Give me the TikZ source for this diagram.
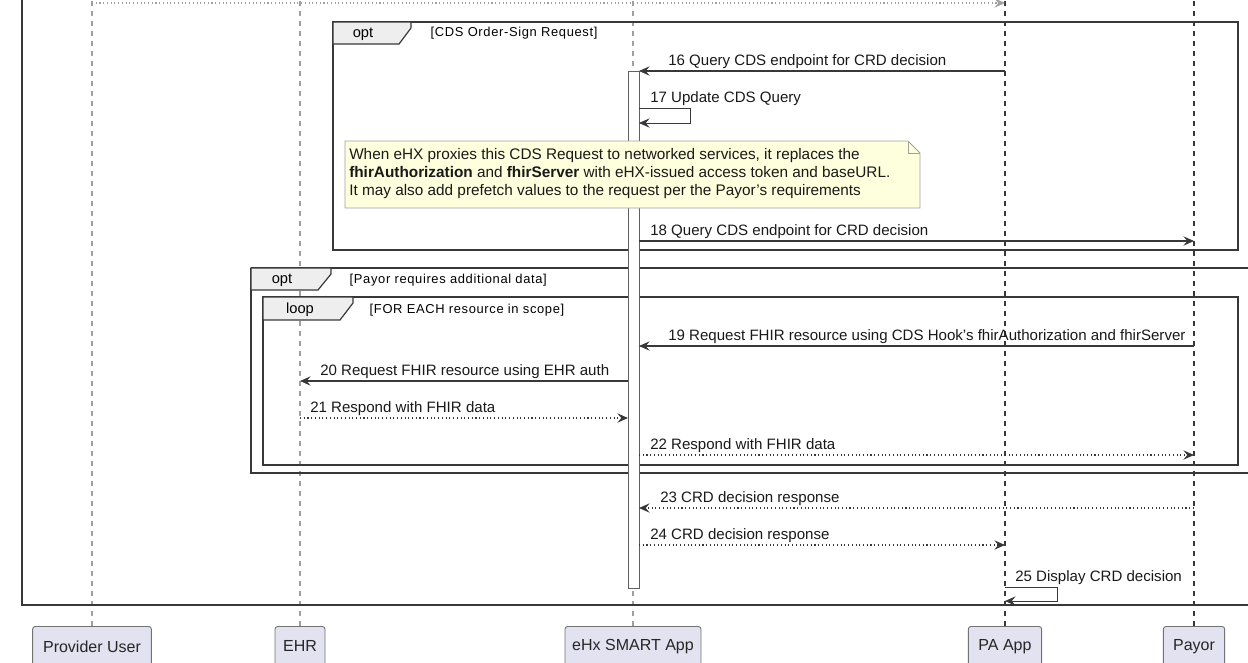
\documentclass[tikz,border=0pt]{standalone}
\usepackage{fontspec}
\setmainfont{Liberation Sans}
\newfontfamily\condfont[LetterSpace=5]{Liberation Sans}
\usetikzlibrary{arrows.meta,positioning,calc}

\definecolor{lineclr}{HTML}{383838}
\definecolor{lifeclr}{HTML}{A0A0A0}
\definecolor{actorfill}{HTML}{E2E2F0}
\definecolor{notefill}{HTML}{FEFFDD}
\definecolor{tabfill}{HTML}{EEEEEE}

\tikzset{
  msg/.style={draw=lineclr, line width=0.8pt, -{Stealth[length=8pt,width=7pt,inset=3pt]}},
  reply/.style={msg, dotted},
  selfmsg/.style={draw=lineclr, line width=0.6pt, -{Stealth[length=8pt,width=7pt,inset=3pt]}},
  lifeline/.style={draw=lifeclr, line width=0.8pt, dash pattern=on 4pt off 3.5pt},
  lifedark/.style={lifeline, draw=lineclr},
  frame/.style={draw=lineclr, line width=0.9pt},
  tab/.style={draw=lineclr, line width=0.9pt, fill=tabfill},
  tabtext/.style={font=\fontsize{11}{13}\selectfont, text=black},
  cond/.style={font=\condfont\fontsize{9.7}{11}\selectfont, text=black, anchor=west},
  lbl/.style={font=\fontsize{11.3}{13}\selectfont, text=black!90, anchor=base west, inner sep=0pt},
  actor/.style={draw=black!55, fill=actorfill, rounded corners=2pt, line width=0.7pt,
    anchor=north, minimum height=30pt, font=\fontsize{12}{14}\selectfont, text=black!85},
  actbar/.style={draw=lineclr!80, fill=white, line width=0.7pt},
}

\begin{document}
\begin{tikzpicture}[x=0.75pt,y=-0.75pt]
\useasboundingbox (0,0) rectangle (1248,662);

% participants (footer boxes)
\node[actor, minimum width=89pt] (pu) at (92,626) {Provider User};
\node[actor, minimum width=37.5pt] (ehr) at (300,626) {EHR};
\node[actor, minimum width=102pt] (app) at (633,626) {eHx SMART App};
\node[actor, minimum width=55pt] (pa) at (1005,626) {PA App};
\node[actor, minimum width=46pt] (payor) at (1194,626) {Payor};

% lifelines
\coordinate (top) at (0,-2);
\draw[lifeline] (pu.north) -- (pu |- top);
\draw[lifeline] (ehr.north) -- (ehr |- top);
\draw[lifeline] (app.north) -- (app |- top);
\draw[lifedark] (pa.north) -- (pa |- top);
\draw[lifedark] (payor.north) -- (payor |- top);

% message cut off at the top edge
\draw[reply, draw=lifeclr] (pu |- 0,3) -- (pa |- 0,3);

% outer frame
\draw[frame] (22,-5) -- (22,605) -- (1260,605);

% opt: CDS Order-Sign Request
\draw[frame] (333,22) rectangle (1238,250);
\draw[tab] (333,22) -- (411,22) -- (411,28) -- (399,44) -- (333,44) -- cycle;
\node[tabtext] (opt1) at (363,34) {opt};
\node[cond] (opt1c) at (426,33) {[CDS Order-Sign Request]};

% opt: Payor requires additional data
\draw[frame] (251,268) -- (1260,268);
\draw[frame] (1260,473) -- (251,473) -- (251,268);
\draw[tab] (251,268) -- (331,268) -- (331,274) -- (318,290) -- (251,290) -- cycle;
\node[tabtext] (opt2) at (282,280) {opt};
\node[cond] (opt2c) at (345,280) {[Payor requires additional data]};

% loop: FOR EACH resource in scope
\draw[frame] (263,297) rectangle (1238,465);
\draw[tab] (263,297) -- (353,297) -- (353,303) -- (340,320) -- (263,320) -- cycle;
\node[tabtext] (loop1) at (300,310) {loop};
\node[cond] (loop1c) at (365,310) {[FOR EACH resource in scope]};

% activation bar on eHx SMART App
\draw[actbar] (628,71) rectangle (639,588);
\coordinate (barL) at (628,0);
\coordinate (barR) at (639,0);

% 16
\draw[msg] (pa |- 0,71) -- (barR |- 0,71);
\node[lbl] (m16) at (668,65) {16 Query CDS endpoint for CRD decision};
% 17
\draw[selfmsg] (barR |- 0,108) -- (690,108) -- (690,123) -- (barR |- 0,123);
\node[lbl] (m17) at (650,102) {17 Update CDS Query};

% note
\draw[draw=lifeclr, fill=notefill, line width=0.7pt]
  (345,141) -- (908,141) -- (920,153) -- (920,208) -- (345,208) -- cycle;
\draw[draw=lifeclr, line width=0.7pt] (908,141) -- (908,153) -- (920,153);
\node[anchor=north west, align=left, inner sep=0pt, text=black!90,
  font=\fontsize{11.5}{13.5}\selectfont] (note) at (349,148)
  {When eHX proxies this CDS Request to networked services, it replaces the\\
   \textbf{fhirAuthorization} and \textbf{fhirServer} with eHX-issued access token and baseURL.\\
   It may also add prefetch values to the request per the Payor's requirements};

% 18
\draw[msg] (barR |- 0,241) -- (payor |- 0,241);
\node[lbl] (m18) at (650,235) {18 Query CDS endpoint for CRD decision};

% 19
\draw[msg] (payor |- 0,346) -- (barR |- 0,346);
\node[lbl] (m19) at (668,340) {19 Request FHIR resource using CDS Hook's fhirAuthorization and fhirServer};
% 20
\draw[msg] (barL |- 0,381) -- (ehr |- 0,381);
\node[lbl] (m20) at (320,375) {20 Request FHIR resource using EHR auth};
% 21
\draw[reply] (ehr |- 0,418) -- (barL |- 0,418);
\node[lbl] (m21) at (310,412) {21 Respond with FHIR data};
% 22
\draw[reply] (barR |- 0,455) -- (payor |- 0,455);
\node[lbl] (m22) at (650,449) {22 Respond with FHIR data};

% 23
\draw[reply] (payor |- 0,508) -- (barR |- 0,508);
\node[lbl] (m23) at (660,502) {23 CRD decision response};
% 24
\draw[reply] (barR |- 0,545) -- (pa |- 0,545);
\node[lbl] (m24) at (650,539) {24 CRD decision response};
% 25
\draw[selfmsg] (pa |- 0,587) -- (1057,587) -- (1057,601) -- (pa |- 0,601);
\node[lbl] (m25) at (1015,581) {25 Display CRD decision};
\end{tikzpicture}
\end{document}
